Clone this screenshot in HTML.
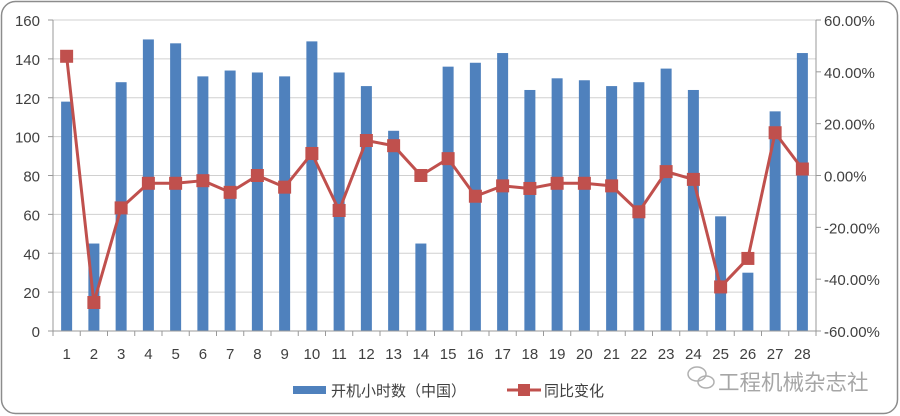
<!DOCTYPE html>
<html><head><meta charset="utf-8"><style>
html,body{margin:0;padding:0;background:#fff;}
svg{display:block;font-family:"Liberation Sans","Noto Sans CJK SC",sans-serif;}
</style></head><body>
<svg id="c" width="900" height="416" xmlns="http://www.w3.org/2000/svg">
<rect x="1.5" y="1.5" width="896" height="412" rx="14" fill="#fff" stroke="#8c8c8c" stroke-width="1.5"/>
<g id="g"></g>
<rect x="293" y="386" width="33" height="8" fill="#4f81bd"/>
<text x="331" y="396" font-size="15" fill="#404040">开机小时数（中国）</text>
<line x1="507" y1="390" x2="541" y2="390" stroke="#c0504d" stroke-width="3"/>
<rect x="518" y="384" width="12" height="12" fill="#c0504d"/>
<text x="544" y="396" font-size="15" fill="#404040">同比变化</text>
<text x="718" y="390" font-size="21.5" fill="#a6a6a6">工程机械杂志社</text>
<g fill="none" stroke="#b0b0b0" stroke-width="1.5"><ellipse cx="697" cy="374" rx="9" ry="7"/><ellipse cx="706" cy="382" rx="8" ry="6"/></g>
</svg>
<script>
var bars=[118,45,128,150,148,131,134,133,131,149,133,126,103,45,136,138,143,124,130,129,126,128,135,124,59,30,113,143];
var pct=[46,-49,-12.5,-3,-3,-2,-6.5,0,-4.5,8.5,-13.5,13.5,11.5,0,6.5,-8,-4,-5,-3,-3,-4,-14,1.5,-1.5,-43,-32,16.5,2.5];
var L=53,R=816,T=20,B=331,W=(R-L)/28,s='';
function yl(v){return B-v*(B-T)/160;}
function yr(v){return 175.5-v*(B-T)/120;}
for(var i=0;i<=160;i+=20){var y=yl(i);
 if(i>0)s+='<line x1="'+L+'" x2="'+R+'" y1="'+y+'" y2="'+y+'" stroke="#d0d0d0" stroke-width="1"/>';
 s+='<line x1="'+(L-5)+'" x2="'+L+'" y1="'+y+'" y2="'+y+'" stroke="#999"/>';
 s+='<text x="'+(L-13)+'" y="'+(y+6)+'" font-size="15" fill="#404040" text-anchor="end">'+i+'</text>';}
for(var p=-60;p<=60;p+=20){var y=yr(p);
 s+='<line x1="'+R+'" x2="'+(R+5)+'" y1="'+y+'" y2="'+y+'" stroke="#999"/>';
 s+='<text x="'+(R+8)+'" y="'+(y+6)+'" font-size="15" fill="#404040">'+(p<0?'-':'')+Math.abs(p).toFixed(2)+'%</text>';}
s+='<line x1="'+L+'" x2="'+L+'" y1="'+T+'" y2="'+B+'" stroke="#999"/>';
s+='<line x1="'+R+'" x2="'+R+'" y1="'+T+'" y2="'+B+'" stroke="#999"/>';
for(var i=0;i<=28;i++){var x=L+i*W;s+='<line x1="'+x+'" x2="'+x+'" y1="'+B+'" y2="'+(B+5)+'" stroke="#999"/>';}
var pts=[];
for(var i=0;i<28;i++){var cx=L+(i+0.5)*W,y=yl(bars[i]);
 s+='<rect x="'+(cx-5.5)+'" y="'+y+'" width="11" height="'+(B-y)+'" fill="#4f81bd"/>';
 s+='<text x="'+cx+'" y="359" font-size="15" fill="#404040" text-anchor="middle">'+(i+1)+'</text>';
 pts.push(cx+','+yr(pct[i]));}
s+='<line x1="'+L+'" x2="'+R+'" y1="'+B+'" y2="'+B+'" stroke="#999"/>';
s+='<polyline points="'+pts.join(' ')+'" fill="none" stroke="#c0504d" stroke-width="3" stroke-linejoin="round"/>';
for(var i=0;i<28;i++){var cx=L+(i+0.5)*W,y=yr(pct[i]);
 s+='<rect x="'+(cx-6.5)+'" y="'+(y-6.5)+'" width="13" height="13" fill="#c0504d"/>';}
document.getElementById('g').innerHTML=s;
</script>
</body></html>
